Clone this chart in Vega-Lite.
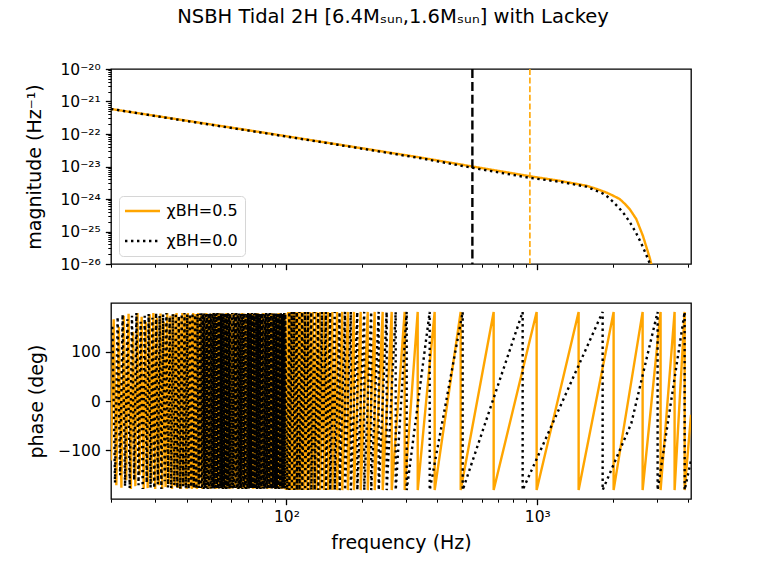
{
  "$schema": "https://vega.github.io/schema/vega-lite/v6.json",
  "background": "white",
  "padding": {"left": 25, "top": 5, "right": 10, "bottom": 5},
  "spacing": 28,
  "resolve": {"legend": {"color": "independent", "strokeDash": "independent"}, "scale": {"color": "independent", "strokeDash": "independent"}},
  "config": {
    "font": "DejaVu Sans",
    "view": {"stroke": "black", "strokeWidth": 1.3},
    "axis": {"grid": false, "domain": false, "tickColor": "black", "labelColor": "black", "titleColor": "black", "labelFontSize": 15.5, "titleFontSize": 19, "titleFontWeight": "normal", "labelFont": "DejaVu Sans", "titleFont": "DejaVu Sans", "labelPadding": 5, "titlePadding": 8, "tickWidth": 1.3, "tickSize": 5.7, "labelOverlap": false, "labelFlush": false}
  },
  "datasets": {
    "mag": [
      {"f":20,"m":5.888e-22,"s":"0.5"},{"f":40,"m":2.57e-22,"s":"0.5"},{"f":80,"m":1.122e-22,"s":"0.5"},{"f":160,"m":4.79e-23,"s":"0.5"},{"f":340,"m":1.905e-23,"s":"0.5"},{"f":551,"m":1.0e-23,"s":"0.5"},{"f":934,"m":5.01e-24,"s":"0.5"},{"f":1227,"m":3.63e-24,"s":"0.5"},{"f":1567,"m":2.57e-24,"s":"0.5"},{"f":1707,"m":2.09e-24,"s":"0.5"},{"f":1883,"m":1.585e-24,"s":"0.5"},{"f":1995,"m":1.29e-24,"s":"0.5"},{"f":2128,"m":1.0e-24,"s":"0.5"},{"f":2227,"m":7.24e-25,"s":"0.5"},{"f":2333,"m":4.9e-25,"s":"0.5"},{"f":2480,"m":2.4e-25,"s":"0.5"},{"f":2634,"m":7.41e-26,"s":"0.5"},{"f":2802,"m":1.585e-26,"s":"0.5"},{"f":2846,"m":1.0e-26,"s":"0.5"},{"f":2900,"m":5.62e-27,"s":"0.5"},
      {"f":20,"m":5.888e-22,"s":"0.0"},{"f":40,"m":2.51e-22,"s":"0.0"},{"f":80,"m":1.096e-22,"s":"0.0"},{"f":160,"m":4.68e-23,"s":"0.0"},{"f":340,"m":1.82e-23,"s":"0.0"},{"f":551,"m":9.12e-24,"s":"0.0"},{"f":934,"m":4.47e-24,"s":"0.0"},{"f":1227,"m":3.39e-24,"s":"0.0"},{"f":1567,"m":2.4e-24,"s":"0.0"},{"f":1824,"m":1.48e-24,"s":"0.0"},{"f":1910,"m":1.15e-24,"s":"0.0"},{"f":2000,"m":8.32e-25,"s":"0.0"},{"f":2113,"m":5.37e-25,"s":"0.0"},{"f":2228,"m":3.31e-25,"s":"0.0"},{"f":2348,"m":1.82e-25,"s":"0.0"},{"f":2470,"m":9.33e-26,"s":"0.0"},{"f":2600,"m":4.17e-26,"s":"0.0"},{"f":2700,"m":2.14e-26,"s":"0.0"},{"f":2802,"m":1.07e-26,"s":"0.0"},{"f":2850,"m":7.59e-27,"s":"0.0"}
    ],
    "ph": [
      {"f":20.0,"p":-120,"s":"0.5"},{"f":20.5,"p":165,"s":"0.5"},{"f":21.0,"p":-170,"s":"0.5"},{"f":21.5,"p":150,"s":"0.5"},{"f":22.0,"p":-175,"s":"0.5"},{"f":22.5,"p":172,"s":"0.5"},{"f":23.0,"p":-160,"s":"0.5"},{"f":23.5,"p":176,"s":"0.5"},{"f":24.0,"p":-178,"s":"0.5"},{"f":24.5,"p":140,"s":"0.5"},{"f":25.0,"p":-172,"s":"0.5"},{"f":25.5,"p":178,"s":"0.5"},{"f":26.0,"p":-150,"s":"0.5"},{"f":26.5,"p":170,"s":"0.5"},{"f":27.0,"p":-178,"s":"0.5"},{"f":27.5,"p":160,"s":"0.5"},{"f":28.0,"p":-176,"s":"0.5"},{"f":28.5,"p":175,"s":"0.5"},{"f":29.0,"p":-165,"s":"0.5"},{"f":29.5,"p":178,"s":"0.5"},{"f":30.0,"p":-178,"s":"0.5"},{"f":30.5,"p":168,"s":"0.5"},{"f":31.0,"p":-170,"s":"0.5"},{"f":31.5,"p":177,"s":"0.5"},{"f":32.0,"p":-178,"s":"0.5"},{"f":32.5,"p":160,"s":"0.5"},{"f":33.0,"p":-174,"s":"0.5"},{"f":33.5,"p":178,"s":"0.5"},{"f":34.0,"p":-168,"s":"0.5"},{"f":34.5,"p":172,"s":"0.5"},{"f":35.0,"p":-178,"s":"0.5"},{"f":35.5,"p":176,"s":"0.5"},{"f":36.0,"p":-172,"s":"0.5"},{"f":36.5,"p":178,"s":"0.5"},{"f":37.0,"p":-176,"s":"0.5"},{"f":37.5,"p":170,"s":"0.5"},{"f":38.0,"p":-178,"s":"0.5"},{"f":38.5,"p":178,"s":"0.5"},{"f":39.0,"p":-170,"s":"0.5"},{"f":39.5,"p":175,"s":"0.5"},{"f":40.0,"p":-178,"s":"0.5"},{"f":40.5,"p":178,"s":"0.5"},{"f":41.0,"p":-175,"s":"0.5"},{"f":41.5,"p":172,"s":"0.5"},{"f":42.0,"p":-178,"s":"0.5"},{"f":42.5,"p":178,"s":"0.5"},{"f":43.0,"p":-176,"s":"0.5"},{"f":43.5,"p":176,"s":"0.5"},{"f":44.0,"p":-178,"s":"0.5"},{"f":44.5,"p":178,"s":"0.5"},{"f":45.0,"p":-175,"s":"0.5"},
      {"f":45.6,"p":176,"s":"0.5"},{"f":46.2,"p":-178,"s":"0.5"},{"f":46.8,"p":177,"s":"0.5"},{"f":47.4,"p":-176,"s":"0.5"},{"f":48.0,"p":178,"s":"0.5"},{"f":48.6,"p":-177,"s":"0.5"},{"f":49.2,"p":175,"s":"0.5"},{"f":49.8,"p":-178,"s":"0.5"},{"f":50.4,"p":177,"s":"0.5"},{"f":51.0,"p":-176,"s":"0.5"},{"f":51.6,"p":178,"s":"0.5"},{"f":52.2,"p":-178,"s":"0.5"},{"f":52.8,"p":176,"s":"0.5"},{"f":53.4,"p":-177,"s":"0.5"},{"f":54.0,"p":178,"s":"0.5"},{"f":54.6,"p":-176,"s":"0.5"},{"f":55.2,"p":177,"s":"0.5"},{"f":55.8,"p":-178,"s":"0.5"},{"f":56.4,"p":176,"s":"0.5"},{"f":57.0,"p":-177,"s":"0.5"},{"f":57.6,"p":178,"s":"0.5"},{"f":58.2,"p":-176,"s":"0.5"},{"f":58.8,"p":177,"s":"0.5"},{"f":59.4,"p":-178,"s":"0.5"},{"f":60.0,"p":176,"s":"0.5"},
      {"f":60.8,"p":-177,"s":"0.5"},{"f":61.6,"p":178,"s":"0.5"},{"f":62.4,"p":-176,"s":"0.5"},{"f":63.2,"p":177,"s":"0.5"},{"f":64.0,"p":-178,"s":"0.5"},{"f":64.8,"p":176,"s":"0.5"},{"f":65.6,"p":-177,"s":"0.5"},{"f":66.4,"p":178,"s":"0.5"},{"f":67.2,"p":-176,"s":"0.5"},{"f":68.0,"p":177,"s":"0.5"},{"f":68.8,"p":-178,"s":"0.5"},{"f":69.6,"p":176,"s":"0.5"},{"f":70.4,"p":-177,"s":"0.5"},{"f":71.2,"p":178,"s":"0.5"},{"f":72.0,"p":-176,"s":"0.5"},{"f":72.8,"p":177,"s":"0.5"},{"f":73.6,"p":-178,"s":"0.5"},{"f":74.4,"p":176,"s":"0.5"},{"f":75.2,"p":-177,"s":"0.5"},{"f":76.0,"p":178,"s":"0.5"},{"f":76.8,"p":-176,"s":"0.5"},{"f":77.6,"p":177,"s":"0.5"},{"f":78.4,"p":-178,"s":"0.5"},{"f":79.2,"p":176,"s":"0.5"},{"f":80.0,"p":-177,"s":"0.5"},
      {"f":81,"p":178,"s":"0.5"},{"f":82,"p":-176,"s":"0.5"},{"f":83,"p":177,"s":"0.5"},{"f":84,"p":-178,"s":"0.5"},{"f":85,"p":176,"s":"0.5"},{"f":86,"p":-177,"s":"0.5"},{"f":87,"p":178,"s":"0.5"},{"f":88,"p":-176,"s":"0.5"},{"f":89,"p":177,"s":"0.5"},{"f":90,"p":-178,"s":"0.5"},{"f":91,"p":176,"s":"0.5"},{"f":92,"p":-177,"s":"0.5"},{"f":93,"p":178,"s":"0.5"},{"f":94,"p":-176,"s":"0.5"},{"f":95,"p":177,"s":"0.5"},{"f":96,"p":-178,"s":"0.5"},{"f":97,"p":176,"s":"0.5"},{"f":98,"p":-177,"s":"0.5"},{"f":99,"p":178,"s":"0.5"},
      {"f":99.6,"p":-180,"s":"0.5"},
      {"f":101.7,"p":180,"s":"0.5"},{"f":101.8,"p":-180,"s":"0.5"},{"f":103.8,"p":180,"s":"0.5"},{"f":103.9,"p":-180,"s":"0.5"},{"f":106.2,"p":180,"s":"0.5"},{"f":106.3,"p":-180,"s":"0.5"},{"f":108.7,"p":180,"s":"0.5"},{"f":108.8,"p":-180,"s":"0.5"},{"f":111.3,"p":180,"s":"0.5"},{"f":111.4,"p":-180,"s":"0.5"},{"f":114.1,"p":180,"s":"0.5"},{"f":114.2,"p":-180,"s":"0.5"},{"f":117.1,"p":180,"s":"0.5"},{"f":117.2,"p":-180,"s":"0.5"},{"f":120.3,"p":180,"s":"0.5"},{"f":120.4,"p":-180,"s":"0.5"},{"f":123.8,"p":180,"s":"0.5"},{"f":123.9,"p":-180,"s":"0.5"},{"f":127.5,"p":180,"s":"0.5"},{"f":127.6,"p":-180,"s":"0.5"},{"f":131.7,"p":180,"s":"0.5"},{"f":131.8,"p":-180,"s":"0.5"},{"f":136.1,"p":180,"s":"0.5"},{"f":136.2,"p":-180,"s":"0.5"},{"f":141.1,"p":180,"s":"0.5"},{"f":141.2,"p":-180,"s":"0.5"},{"f":146.5,"p":180,"s":"0.5"},{"f":146.6,"p":-180,"s":"0.5"},{"f":152.5,"p":180,"s":"0.5"},{"f":152.6,"p":-180,"s":"0.5"},{"f":159.2,"p":180,"s":"0.5"},{"f":159.3,"p":-180,"s":"0.5"},{"f":166.9,"p":180,"s":"0.5"},{"f":167.0,"p":-180,"s":"0.5"},{"f":175.7,"p":180,"s":"0.5"},{"f":175.8,"p":-180,"s":"0.5"},{"f":185.8,"p":180,"s":"0.5"},{"f":185.9,"p":-180,"s":"0.5"},{"f":197.7,"p":180,"s":"0.5"},{"f":197.8,"p":-180,"s":"0.5"},{"f":210.9,"p":180,"s":"0.5"},{"f":211.0,"p":-180,"s":"0.5"},{"f":224.8,"p":180,"s":"0.5"},{"f":224.9,"p":-180,"s":"0.5"},{"f":241.9,"p":180,"s":"0.5"},{"f":242.0,"p":-180,"s":"0.5"},{"f":262.8,"p":180,"s":"0.5"},{"f":262.9,"p":-180,"s":"0.5"},{"f":296.0,"p":180,"s":"0.5"},{"f":296.1,"p":-180,"s":"0.5"},{"f":333.6,"p":180,"s":"0.5"},{"f":333.7,"p":-180,"s":"0.5"},{"f":389.8,"p":180,"s":"0.5"},{"f":389.9,"p":-180,"s":"0.5"},{"f":494.9,"p":180,"s":"0.5"},{"f":495.0,"p":-180,"s":"0.5"},{"f":669.8,"p":180,"s":"0.5"},{"f":669.9,"p":-180,"s":"0.5"},{"f":993.6,"p":180,"s":"0.5"},{"f":993.8,"p":-180,"s":"0.5"},{"f":1460.5,"p":180,"s":"0.5"},{"f":1460.7,"p":-180,"s":"0.5"},{"f":2013.7,"p":180,"s":"0.5"},{"f":2013.9,"p":-180,"s":"0.5"},{"f":2627.7,"p":180,"s":"0.5"},{"f":2627.9,"p":-180,"s":"0.5"},{"f":3098.6,"p":180,"s":"0.5"},{"f":3098.8,"p":-180,"s":"0.5"},{"f":3523.7,"p":180,"s":"0.5"},{"f":3523.9,"p":-180,"s":"0.5"},{"f":3863.9,"p":180,"s":"0.5"},{"f":3864.1,"p":-180,"s":"0.5"},{"f":4096,"p":-28,"s":"0.5"},
      {"f":20.25,"p":150,"s":"0.0"},{"f":20.75,"p":-165,"s":"0.0"},{"f":21.25,"p":170,"s":"0.0"},{"f":21.75,"p":-150,"s":"0.0"},{"f":22.25,"p":175,"s":"0.0"},{"f":22.75,"p":-172,"s":"0.0"},{"f":23.25,"p":165,"s":"0.0"},{"f":23.75,"p":-176,"s":"0.0"},{"f":24.25,"p":172,"s":"0.0"},{"f":24.75,"p":-160,"s":"0.0"},{"f":25.25,"p":178,"s":"0.0"},{"f":25.75,"p":-170,"s":"0.0"},{"f":26.25,"p":160,"s":"0.0"},{"f":26.75,"p":-178,"s":"0.0"},{"f":27.25,"p":172,"s":"0.0"},{"f":27.75,"p":-165,"s":"0.0"},{"f":28.25,"p":176,"s":"0.0"},{"f":28.75,"p":-175,"s":"0.0"},{"f":29.25,"p":168,"s":"0.0"},{"f":29.75,"p":-176,"s":"0.0"},{"f":30.25,"p":178,"s":"0.0"},{"f":30.75,"p":-168,"s":"0.0"},{"f":31.25,"p":172,"s":"0.0"},{"f":31.75,"p":-178,"s":"0.0"},{"f":32.25,"p":175,"s":"0.0"},{"f":32.75,"p":-162,"s":"0.0"},{"f":33.25,"p":178,"s":"0.0"},{"f":33.75,"p":-175,"s":"0.0"},{"f":34.25,"p":170,"s":"0.0"},{"f":34.75,"p":-176,"s":"0.0"},{"f":35.25,"p":176,"s":"0.0"},{"f":35.75,"p":-170,"s":"0.0"},{"f":36.25,"p":178,"s":"0.0"},{"f":36.75,"p":-176,"s":"0.0"},{"f":37.25,"p":172,"s":"0.0"},{"f":37.75,"p":-178,"s":"0.0"},{"f":38.25,"p":176,"s":"0.0"},{"f":38.75,"p":-172,"s":"0.0"},{"f":39.25,"p":178,"s":"0.0"},{"f":39.75,"p":-176,"s":"0.0"},{"f":40.25,"p":175,"s":"0.0"},{"f":40.75,"p":-178,"s":"0.0"},{"f":41.25,"p":176,"s":"0.0"},{"f":41.75,"p":-174,"s":"0.0"},{"f":42.25,"p":178,"s":"0.0"},{"f":42.75,"p":-176,"s":"0.0"},{"f":43.25,"p":174,"s":"0.0"},{"f":43.75,"p":-178,"s":"0.0"},{"f":44.25,"p":176,"s":"0.0"},{"f":44.75,"p":-176,"s":"0.0"},
      {"f":45.3,"p":177,"s":"0.0"},{"f":45.6,"p":-176,"s":"0.0"},{"f":45.9,"p":178,"s":"0.0"},{"f":46.2,"p":-177,"s":"0.0"},{"f":46.5,"p":176,"s":"0.0"},{"f":46.8,"p":-178,"s":"0.0"},{"f":47.1,"p":177,"s":"0.0"},{"f":47.4,"p":-176,"s":"0.0"},{"f":47.7,"p":178,"s":"0.0"},{"f":48.0,"p":-177,"s":"0.0"},{"f":48.3,"p":176,"s":"0.0"},{"f":48.6,"p":-178,"s":"0.0"},{"f":48.9,"p":177,"s":"0.0"},{"f":49.2,"p":-176,"s":"0.0"},{"f":49.5,"p":178,"s":"0.0"},{"f":49.8,"p":-177,"s":"0.0"},{"f":50.1,"p":176,"s":"0.0"},{"f":50.4,"p":-178,"s":"0.0"},{"f":50.7,"p":177,"s":"0.0"},{"f":51.0,"p":-176,"s":"0.0"},{"f":51.3,"p":178,"s":"0.0"},{"f":51.6,"p":-177,"s":"0.0"},{"f":51.9,"p":176,"s":"0.0"},{"f":52.2,"p":-178,"s":"0.0"},{"f":52.5,"p":177,"s":"0.0"},{"f":52.8,"p":-176,"s":"0.0"},{"f":53.1,"p":178,"s":"0.0"},{"f":53.4,"p":-177,"s":"0.0"},{"f":53.7,"p":176,"s":"0.0"},{"f":54.0,"p":-178,"s":"0.0"},{"f":54.3,"p":177,"s":"0.0"},{"f":54.6,"p":-176,"s":"0.0"},{"f":54.9,"p":178,"s":"0.0"},{"f":55.2,"p":-177,"s":"0.0"},{"f":55.5,"p":176,"s":"0.0"},{"f":55.8,"p":-178,"s":"0.0"},{"f":56.1,"p":177,"s":"0.0"},{"f":56.4,"p":-176,"s":"0.0"},{"f":56.7,"p":178,"s":"0.0"},{"f":57.0,"p":-177,"s":"0.0"},{"f":57.3,"p":176,"s":"0.0"},{"f":57.6,"p":-178,"s":"0.0"},{"f":57.9,"p":177,"s":"0.0"},{"f":58.2,"p":-176,"s":"0.0"},{"f":58.5,"p":178,"s":"0.0"},{"f":58.8,"p":-177,"s":"0.0"},{"f":59.1,"p":176,"s":"0.0"},{"f":59.4,"p":-178,"s":"0.0"},{"f":59.7,"p":177,"s":"0.0"},
      {"f":60.4,"p":-176,"s":"0.0"},{"f":60.8,"p":178,"s":"0.0"},{"f":61.2,"p":-177,"s":"0.0"},{"f":61.6,"p":176,"s":"0.0"},{"f":62.0,"p":-178,"s":"0.0"},{"f":62.4,"p":177,"s":"0.0"},{"f":62.8,"p":-176,"s":"0.0"},{"f":63.2,"p":178,"s":"0.0"},{"f":63.6,"p":-177,"s":"0.0"},{"f":64.0,"p":176,"s":"0.0"},{"f":64.4,"p":-178,"s":"0.0"},{"f":64.8,"p":177,"s":"0.0"},{"f":65.2,"p":-176,"s":"0.0"},{"f":65.6,"p":178,"s":"0.0"},{"f":66.0,"p":-177,"s":"0.0"},{"f":66.4,"p":176,"s":"0.0"},{"f":66.8,"p":-178,"s":"0.0"},{"f":67.2,"p":177,"s":"0.0"},{"f":67.6,"p":-176,"s":"0.0"},{"f":68.0,"p":178,"s":"0.0"},{"f":68.4,"p":-177,"s":"0.0"},{"f":68.8,"p":176,"s":"0.0"},{"f":69.2,"p":-178,"s":"0.0"},{"f":69.6,"p":177,"s":"0.0"},{"f":70.0,"p":-176,"s":"0.0"},{"f":70.4,"p":178,"s":"0.0"},{"f":70.8,"p":-177,"s":"0.0"},{"f":71.2,"p":176,"s":"0.0"},{"f":71.6,"p":-178,"s":"0.0"},{"f":72.0,"p":177,"s":"0.0"},{"f":72.4,"p":-176,"s":"0.0"},{"f":72.8,"p":178,"s":"0.0"},{"f":73.2,"p":-177,"s":"0.0"},{"f":73.6,"p":176,"s":"0.0"},{"f":74.0,"p":-178,"s":"0.0"},{"f":74.4,"p":177,"s":"0.0"},{"f":74.8,"p":-176,"s":"0.0"},{"f":75.2,"p":178,"s":"0.0"},{"f":75.6,"p":-177,"s":"0.0"},{"f":76.0,"p":176,"s":"0.0"},{"f":76.4,"p":-178,"s":"0.0"},{"f":76.8,"p":177,"s":"0.0"},{"f":77.2,"p":-176,"s":"0.0"},{"f":77.6,"p":178,"s":"0.0"},{"f":78.0,"p":-177,"s":"0.0"},{"f":78.4,"p":176,"s":"0.0"},{"f":78.8,"p":-178,"s":"0.0"},{"f":79.2,"p":177,"s":"0.0"},{"f":79.6,"p":-176,"s":"0.0"},{"f":80.0,"p":178,"s":"0.0"},
      {"f":80.5,"p":-177,"s":"0.0"},{"f":81.0,"p":176,"s":"0.0"},{"f":81.5,"p":-178,"s":"0.0"},{"f":82.0,"p":177,"s":"0.0"},{"f":82.5,"p":-176,"s":"0.0"},{"f":83.0,"p":178,"s":"0.0"},{"f":83.5,"p":-177,"s":"0.0"},{"f":84.0,"p":176,"s":"0.0"},{"f":84.5,"p":-178,"s":"0.0"},{"f":85.0,"p":177,"s":"0.0"},{"f":85.5,"p":-176,"s":"0.0"},{"f":86.0,"p":178,"s":"0.0"},{"f":86.5,"p":-177,"s":"0.0"},{"f":87.0,"p":176,"s":"0.0"},{"f":87.5,"p":-178,"s":"0.0"},{"f":88.0,"p":177,"s":"0.0"},{"f":88.5,"p":-176,"s":"0.0"},{"f":89.0,"p":178,"s":"0.0"},{"f":89.5,"p":-177,"s":"0.0"},{"f":90.0,"p":176,"s":"0.0"},{"f":90.5,"p":-178,"s":"0.0"},{"f":91.0,"p":177,"s":"0.0"},{"f":91.5,"p":-176,"s":"0.0"},{"f":92.0,"p":178,"s":"0.0"},{"f":92.5,"p":-177,"s":"0.0"},{"f":93.0,"p":176,"s":"0.0"},{"f":93.5,"p":-178,"s":"0.0"},{"f":94.0,"p":177,"s":"0.0"},{"f":94.5,"p":-176,"s":"0.0"},{"f":95.0,"p":178,"s":"0.0"},{"f":95.5,"p":-177,"s":"0.0"},{"f":96.0,"p":176,"s":"0.0"},{"f":96.5,"p":-178,"s":"0.0"},{"f":97.0,"p":177,"s":"0.0"},{"f":97.5,"p":-176,"s":"0.0"},{"f":98.0,"p":178,"s":"0.0"},{"f":98.5,"p":-177,"s":"0.0"},{"f":99.0,"p":176,"s":"0.0"},
      {"f":100.7,"p":-180,"s":"0.0"},
      {"f":102.7,"p":180,"s":"0.0"},{"f":102.8,"p":-180,"s":"0.0"},{"f":105.0,"p":180,"s":"0.0"},{"f":105.1,"p":-180,"s":"0.0"},{"f":107.4,"p":180,"s":"0.0"},{"f":107.5,"p":-180,"s":"0.0"},{"f":110.0,"p":180,"s":"0.0"},{"f":110.1,"p":-180,"s":"0.0"},{"f":112.7,"p":180,"s":"0.0"},{"f":112.8,"p":-180,"s":"0.0"},{"f":115.6,"p":180,"s":"0.0"},{"f":115.7,"p":-180,"s":"0.0"},{"f":118.7,"p":180,"s":"0.0"},{"f":118.8,"p":-180,"s":"0.0"},{"f":122.0,"p":180,"s":"0.0"},{"f":122.1,"p":-180,"s":"0.0"},{"f":125.6,"p":180,"s":"0.0"},{"f":125.7,"p":-180,"s":"0.0"},{"f":129.5,"p":180,"s":"0.0"},{"f":129.6,"p":-180,"s":"0.0"},{"f":133.9,"p":180,"s":"0.0"},{"f":134.0,"p":-180,"s":"0.0"},{"f":138.5,"p":180,"s":"0.0"},{"f":138.6,"p":-180,"s":"0.0"},{"f":143.7,"p":180,"s":"0.0"},{"f":143.8,"p":-180,"s":"0.0"},{"f":149.4,"p":180,"s":"0.0"},{"f":149.5,"p":-180,"s":"0.0"},{"f":155.8,"p":180,"s":"0.0"},{"f":155.9,"p":-180,"s":"0.0"},{"f":162.9,"p":180,"s":"0.0"},{"f":163.0,"p":-180,"s":"0.0"},{"f":171.2,"p":180,"s":"0.0"},{"f":171.3,"p":-180,"s":"0.0"},{"f":180.6,"p":180,"s":"0.0"},{"f":180.7,"p":-180,"s":"0.0"},{"f":191.6,"p":180,"s":"0.0"},{"f":191.7,"p":-180,"s":"0.0"},{"f":204.2,"p":180,"s":"0.0"},{"f":204.3,"p":-180,"s":"0.0"},{"f":217.7,"p":180,"s":"0.0"},{"f":217.8,"p":-180,"s":"0.0"},{"f":233.2,"p":180,"s":"0.0"},{"f":233.3,"p":-180,"s":"0.0"},{"f":250.9,"p":180,"s":"0.0"},{"f":251.0,"p":-180,"s":"0.0"},{"f":272.6,"p":180,"s":"0.0"},{"f":272.7,"p":-180,"s":"0.0"},{"f":301.5,"p":180,"s":"0.0"},{"f":301.6,"p":-180,"s":"0.0"},{"f":372.4,"p":180,"s":"0.0"},{"f":372.5,"p":-180,"s":"0.0"},{"f":504.1,"p":180,"s":"0.0"},{"f":504.2,"p":-180,"s":"0.0"},{"f":873.9,"p":180,"s":"0.0"},{"f":874.0,"p":-180,"s":"0.0"},{"f":1820.6,"p":180,"s":"0.0"},{"f":1820.8,"p":-180,"s":"0.0"},{"f":2369,"p":-45,"s":"0.0"},{"f":3015,"p":180,"s":"0.0"},{"f":3015.2,"p":-180,"s":"0.0"},{"f":3864,"p":180,"s":"0.0"},{"f":3864.2,"p":-180,"s":"0.0"},{"f":4096,"p":-120,"s":"0.0"}
    ]
  },
  "vconcat": [
    {
      "width": 580,
      "height": 195,
      "title": {"text": "NSBH Tidal 2H [6.4Mₛᵤₙ,1.6Mₛᵤₙ] with Lackey", "fontSize": 19.5, "fontWeight": "normal", "anchor": "middle", "frame": "group", "offset": 35, "dx": -8, "color": "black", "font": "DejaVu Sans"},
      "layer": [
        {
          "data": {"name": "mag"},
          "transform": [{"filter": "datum.s == '0.5'"}],
          "mark": {"type": "line", "strokeWidth": 2.4, "clip": true},
          "encoding": {
            "x": {"field": "f", "type": "quantitative", "scale": {"type": "log", "domain": [20, 4096], "nice": false},
              "axis": {"title": null, "labels": false, "values": [20,30,40,50,60,70,80,90,100,200,300,400,500,600,700,800,900,1000,2000,3000,4000],
                "tickSize": {"condition": {"test": "datum.value == 100 || datum.value == 1000", "value": 5.7}, "value": 3.2},
                "tickWidth": {"condition": {"test": "datum.value == 100 || datum.value == 1000", "value": 1.3}, "value": 1.0}}},
            "y": {"field": "m", "type": "quantitative", "scale": {"type": "log", "domain": [1e-26, 1e-20], "nice": false},
              "axis": {"title": "magnitude (Hz⁻¹)", "titlePadding": 15,
                "values": [1e-26,2e-26,3e-26,4e-26,5e-26,6e-26,7e-26,8e-26,9e-26,1e-25,2e-25,3e-25,4e-25,5e-25,6e-25,7e-25,8e-25,9e-25,1e-24,2e-24,3e-24,4e-24,5e-24,6e-24,7e-24,8e-24,9e-24,1e-23,2e-23,3e-23,4e-23,5e-23,6e-23,7e-23,8e-23,9e-23,1e-22,2e-22,3e-22,4e-22,5e-22,6e-22,7e-22,8e-22,9e-22,1e-21,2e-21,3e-21,4e-21,5e-21,6e-21,7e-21,8e-21,9e-21,1e-20],
                "labelExpr": "abs(log(datum.value)/LN10 - round(log(datum.value)/LN10)) < 0.001 ? '10' + ['⁻²⁰','⁻²¹','⁻²²','⁻²³','⁻²⁴','⁻²⁵','⁻²⁶'][-20 - round(log(datum.value)/LN10)] : ''",
                "tickSize": {"condition": {"test": "abs(log(datum.value)/LN10 - round(log(datum.value)/LN10)) < 0.001", "value": 5.7}, "value": 3.2},
                "tickWidth": {"condition": {"test": "abs(log(datum.value)/LN10 - round(log(datum.value)/LN10)) < 0.001", "value": 1.3}, "value": 1.0}}},
            "color": {"field": "s", "type": "nominal", "scale": {"domain": ["0.5", "0.0"], "range": ["orange", "black"]},
              "legend": {"title": null, "orient": "bottom-left", "offset": 8, "labelExpr": "'χBH=' + datum.label", "symbolType": "M-3.5,0H3.5", "symbolSize": 100, "symbolStrokeWidth": 2.4, "symbolOffset": 8.5, "labelOffset": 16, "labelFontSize": 16, "labelColor": "black", "padding": 7, "rowPadding": 14, "strokeColor": "#d6d6d6", "fillColor": "rgba(255,255,255,0.8)", "cornerRadius": 4}},
            "strokeDash": {"field": "s", "type": "nominal", "scale": {"domain": ["0.5", "0.0"], "range": [[1, 0], [2.4, 3.6]]},
              "legend": {"title": null, "orient": "bottom-left", "offset": 8, "labelExpr": "'χBH=' + datum.label", "symbolType": "M-3.5,0H3.5", "symbolSize": 100, "symbolStrokeWidth": 2.4, "symbolOffset": 8.5, "labelOffset": 16, "labelFontSize": 16, "labelColor": "black", "padding": 7, "rowPadding": 14, "strokeColor": "#d6d6d6", "fillColor": "rgba(255,255,255,0.8)", "cornerRadius": 4}}
          }
        },
        {
          "data": {"name": "mag"},
          "transform": [{"filter": "datum.s == '0.0'"}],
          "mark": {"type": "line", "strokeWidth": 2.4, "clip": true},
          "encoding": {
            "x": {"field": "f", "type": "quantitative"},
            "y": {"field": "m", "type": "quantitative"},
            "color": {"field": "s", "type": "nominal"},
            "strokeDash": {"field": "s", "type": "nominal"}
          }
        },
        {
          "data": {"values": [{"f": 551}]},
          "mark": {"type": "rule", "color": "black", "strokeWidth": 2.4, "strokeDash": [9, 3.9]},
          "encoding": {"x": {"field": "f", "type": "quantitative"}}
        },
        {
          "data": {"values": [{"f": 934}]},
          "mark": {"type": "rule", "color": "orange", "strokeWidth": 1.6, "strokeDash": [6, 2.6]},
          "encoding": {"x": {"field": "f", "type": "quantitative"}}
        }
      ]
    },
    {
      "width": 580,
      "height": 196,
      "layer": [
        {
          "data": {"name": "ph"},
          "transform": [{"filter": "datum.s == '0.5'"}],
          "mark": {"type": "line", "color": "orange", "strokeWidth": 2.4, "clip": true},
          "encoding": {
            "x": {"field": "f", "type": "quantitative", "scale": {"type": "log", "domain": [20, 4096], "nice": false},
              "axis": {"title": "frequency (Hz)", "values": [20,30,40,50,60,70,80,90,100,200,300,400,500,600,700,800,900,1000,2000,3000,4000],
                "labelExpr": "datum.value == 100 ? '10²' : datum.value == 1000 ? '10³' : ''",
                "tickSize": {"condition": {"test": "datum.value == 100 || datum.value == 1000", "value": 5.7}, "value": 3.2},
                "tickWidth": {"condition": {"test": "datum.value == 100 || datum.value == 1000", "value": 1.3}, "value": 1.0}}},
            "y": {"field": "p", "type": "quantitative", "scale": {"domain": [-198, 198], "nice": false},
              "axis": {"title": "phase (deg)", "titlePadding": 11, "values": [-100, 0, 100], "labelExpr": "datum.value < 0 ? '−' + abs(datum.value) : '' + datum.value"}}
          }
        },
        {
          "data": {"name": "ph"},
          "transform": [{"filter": "datum.s == '0.0'"}],
          "mark": {"type": "line", "color": "black", "strokeWidth": 2.4, "strokeDash": [2.4, 3.6], "clip": true},
          "encoding": {
            "x": {"field": "f", "type": "quantitative"},
            "y": {"field": "p", "type": "quantitative"}
          }
        }
      ]
    }
  ]
}
